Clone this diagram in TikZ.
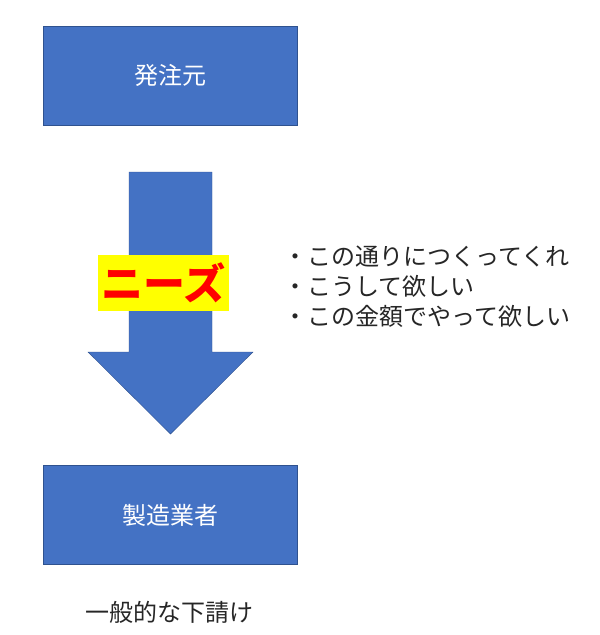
\documentclass[tikz,border=0pt]{standalone}
\usepackage{fontspec}
\setmainfont{Noto Sans CJK JP}
\usepackage{tikz}
\usetikzlibrary{positioning}
\usepackage{xcolor}
\definecolor{boxblue}{HTML}{4472C4}
\definecolor{boxedge}{HTML}{2F528F}
\definecolor{needred}{HTML}{FF0000}
\definecolor{needyellow}{HTML}{FFFF00}
\definecolor{textgray}{HTML}{262626}
\tikzset{
  party/.style={draw=boxedge, fill=boxblue, minimum width=254pt, minimum height=99pt,
    text=white, font=\fontsize{24}{28}\selectfont, inner sep=0pt},
}

\begin{document}
\begin{tikzpicture}[x=1pt, y=-1pt]
	    		\useasboundingbox (0, 0) rectangle (600, 635);
	    		\node[party] (client) at (170, 75.5) {発注元};
	    		\node[party] (maker) at (170, 515) {製造業者};
	    		\filldraw[draw=boxedge, fill=boxblue] (129, 172) -- (212, 172) -- (212, 352) -- (253, 352)
	    			-- (170.5, 434) -- (88, 352) -- (129, 352) -- cycle;
	    		\node[fill=needyellow, text=needred, minimum width=131pt, minimum height=56pt, inner sep=0pt,
	    			font=\fontsize{42}{46}\selectfont\bfseries] (needs) at (163.5, 283) {ニーズ};
	    		\node[anchor=west, align=left, text=textgray, inner sep=0pt,
	    			font=\fontsize{24}{30}\selectfont] (wishes) at (283, 287)
	    			{・この通りにつくってくれ\\・こうして欲しい\\・この金額でやって欲しい};
	    		\node[text=textgray, inner sep=0pt, font=\fontsize{24}{28}\selectfont] (kind) at (169, 612) {一般的な下請け};
	    	\end{tikzpicture}
\end{document}
